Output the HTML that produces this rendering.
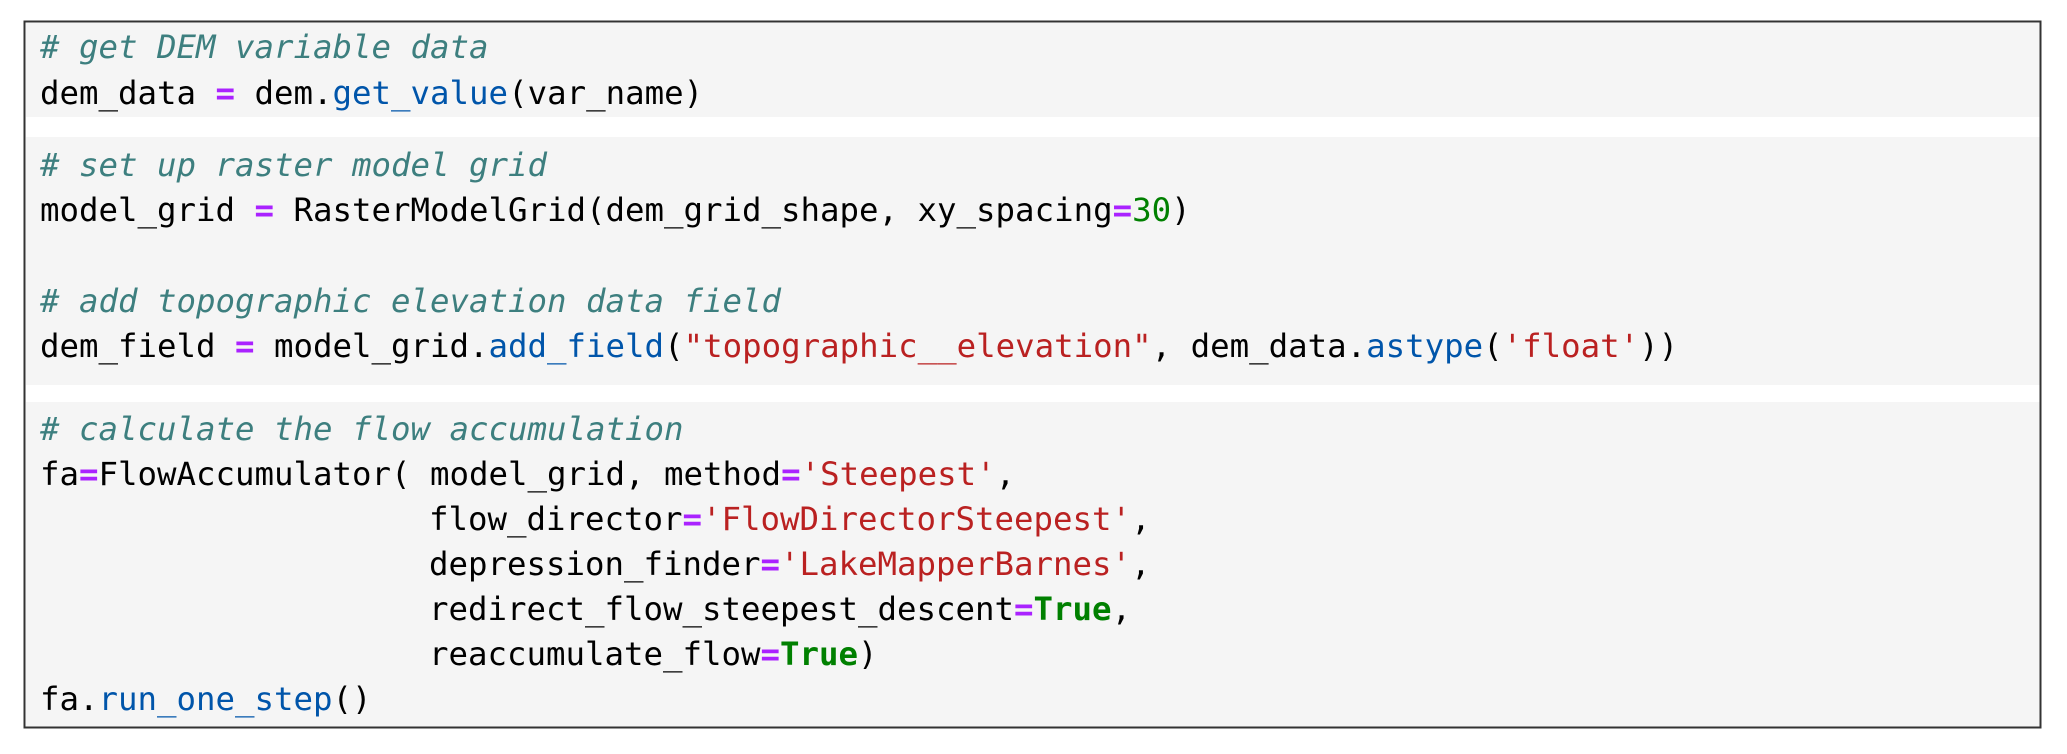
<!DOCTYPE html>
<html><head><meta charset="utf-8"><style>
html,body{margin:0;padding:0;background:#fff;width:2067px;height:754px;overflow:hidden}
</style></head><body>
<svg width="2067" height="754" xmlns="http://www.w3.org/2000/svg" style="display:block">
<rect x="0" y="0" width="2067" height="754" fill="#fff"/>
<rect x="26" y="23" width="2014" height="94" fill="#f5f5f5"/>
<rect x="26" y="137" width="2014" height="248" fill="#f5f5f5"/>
<rect x="26" y="402" width="2014" height="325" fill="#f5f5f5"/>
<rect x="24.5" y="21.5" width="2016" height="706" fill="none" stroke="#333" stroke-width="2"/>
<g font-family="'DejaVu Sans Mono','Liberation Mono',monospace" font-size="32.4" fill="#000">
<text x="40" y="58" fill="#3d7f7f" font-style="italic"># get DEM variable data</text>
<text x="40" y="104">dem_data <tspan fill="#aa22ff" font-weight="bold">=</tspan> dem.<tspan fill="#0055aa">get_value</tspan>(var_name)</text>

<text x="40" y="176" fill="#3d7f7f" font-style="italic"># set up raster model grid</text>
<text x="40" y="221">model_grid <tspan fill="#aa22ff" font-weight="bold">=</tspan> RasterModelGrid(dem_grid_shape, xy_spacing<tspan fill="#aa22ff" font-weight="bold">=</tspan><tspan fill="#008000">30</tspan>)</text>
<text x="40" y="312" fill="#3d7f7f" font-style="italic"># add topographic elevation data field</text>
<text x="40" y="357">dem_field <tspan fill="#aa22ff" font-weight="bold">=</tspan> model_grid.<tspan fill="#0055aa">add_field</tspan>(<tspan fill="#ba2121">"topographic__elevation"</tspan>, dem_data.<tspan fill="#0055aa">astype</tspan>(<tspan fill="#ba2121">'float'</tspan>))</text>

<text x="40" y="440" fill="#3d7f7f" font-style="italic"># calculate the flow accumulation</text>
<text x="40" y="485">fa<tspan fill="#aa22ff" font-weight="bold">=</tspan>FlowAccumulator( model_grid, method<tspan fill="#aa22ff" font-weight="bold">=</tspan><tspan fill="#ba2121">'Steepest'</tspan>,</text>
<text x="429" y="530">flow_director<tspan fill="#aa22ff" font-weight="bold">=</tspan><tspan fill="#ba2121">'FlowDirectorSteepest'</tspan>,</text>
<text x="429" y="575">depression_finder<tspan fill="#aa22ff" font-weight="bold">=</tspan><tspan fill="#ba2121">'LakeMapperBarnes'</tspan>,</text>
<text x="429" y="620">redirect_flow_steepest_descent<tspan fill="#aa22ff" font-weight="bold">=</tspan><tspan fill="#008000" font-weight="bold">True</tspan>,</text>
<text x="429" y="665">reaccumulate_flow<tspan fill="#aa22ff" font-weight="bold">=</tspan><tspan fill="#008000" font-weight="bold">True</tspan>)</text>
<text x="40" y="710">fa.<tspan fill="#0055aa">run_one_step</tspan>()</text>
</g>
</svg>
</body></html>
